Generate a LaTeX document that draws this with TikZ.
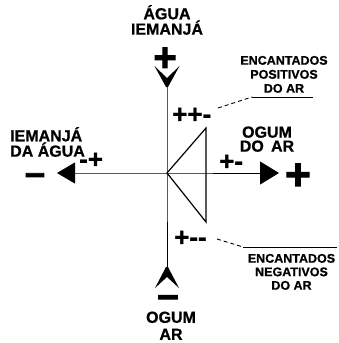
\documentclass[tikz,border=0pt]{standalone}
\usepackage{fontspec}
\setmainfont{Liberation Sans}[BoldFeatures={FakeBold=0.8}]
\newfontfamily\heavyfam{Liberation Sans}[BoldFeatures={FakeBold=2.5}]
\newfontfamily\midfam{Liberation Sans}[BoldFeatures={FakeBold=1.2}]
\usetikzlibrary{arrows.meta}
\newcommand\lblfont{\fontsize{16}{14}\selectfont\bfseries}
\newcommand\encfont{\fontsize{12.5}{14}\selectfont\bfseries}
\newcommand\pmfont{\midfam\fontsize{26}{26}\selectfont\bfseries}
\begin{document}
\begin{tikzpicture}[x=1pt,y=-1pt]
\useasboundingbox (0,0) rectangle (339,343);
\tikzset{
  lbl/.style={font=\lblfont, inner sep=0pt, align=center, anchor=south},
  enc/.style={font=\encfont, inner sep=0pt, align=center, anchor=south},
  pm/.style={font=\pmfont, inner sep=0pt, anchor=base west},
  bigsign/.style={inner sep=0pt, anchor=base},
  axis/.style={line width=0.9pt},
  leader/.style={line width=0.9pt, dash pattern=on 4pt off 3pt},
  uline/.style={line width=0.9pt},
  chev/.style={fill=black}
}
% coordinates
\coordinate (C) at (167,173);
\coordinate (T) at (167,80);
\coordinate (B) at (167,272);
\coordinate (L) at (57,173);
\coordinate (R) at (279,173);
\coordinate (TT) at (206,128);
\coordinate (TB) at (206,222);

% axes
\draw[axis] (T) -- (C) -- (B);
\draw[axis, {Triangle[length=18pt,width=21pt]}-{Triangle[length=19pt,width=23pt]}] (L) -- (C) -- (R);
% triangle
\draw[line width=1.2pt, line join=miter] (C) -- (TT) -- (TB) -- cycle;

% chevrons
\fill[chev] (154.5,66) -- (167,78) -- (179.5,66) -- (168,87) -- (166,87) -- cycle;
\fill[chev] (155,288) -- (167,277) -- (179,288) -- (168,267) -- (166,267) -- cycle;

% big signs
\node[bigsign, font=\heavyfam\fontsize{40}{40}\selectfont\bfseries] (tplus) at (165,71) {+};
\node[bigsign, font=\heavyfam\fontsize{44}{44}\selectfont\bfseries] (rplus) at (298,189.4) {+};
\node[bigsign, font=\heavyfam\fontsize{36}{36}\selectfont\bfseries] (lminus) at (35,184.7) {–};
\node[bigsign, font=\heavyfam\fontsize{38}{38}\selectfont\bfseries] (bminus) at (168,307.5) {–};

% labels
\node[lbl] (top) at (167,35) {ÁGUA\\IEMANJÁ};
\node[lbl, align=left, anchor=south west] (left) at (10,157) {IEMANJÁ\\DA ÁGUA};
\node[lbl] (right) at (267,152) {OGUM\\DO\hspace{0.45em}AR};
\node[lbl, font=\fontsize{16}{17}\selectfont\bfseries] (bot) at (171,340) {OGUM\\AR};

% small sign groups
\node[pm] (ppm) at (172,123) {++-};
\node[pm] (pm) at (219,170) {+-};
\node[pm] (mp) at (79,168) {-+};
\node[pm] (pmm) at (174,246) {+-\kern0pt-};

% encantados labels
\node[enc] (pos) at (284,93) {ENCANTADOS\\POSITIVOS\\DO AR};
\node[enc, font=\fontsize{12.5}{13.5}\selectfont\bfseries] (neg) at (291.5,290) {ENCANTADOS\\NEGATIVOS\\DO AR};

% leaders
\coordinate (u1) at (218,108);
\coordinate (u2) at (252,97);
\coordinate (u3) at (313,97);
\draw[leader] (u1) -- (u2);
\draw[uline] (u2) -- (u3);
\coordinate (d1) at (217,239);
\coordinate (d2) at (243,247);
\coordinate (d3) at (337,247);
\draw[leader] (d1) -- (d2);
\draw[uline] (d2) -- (d3);
\end{tikzpicture}
\end{document}
